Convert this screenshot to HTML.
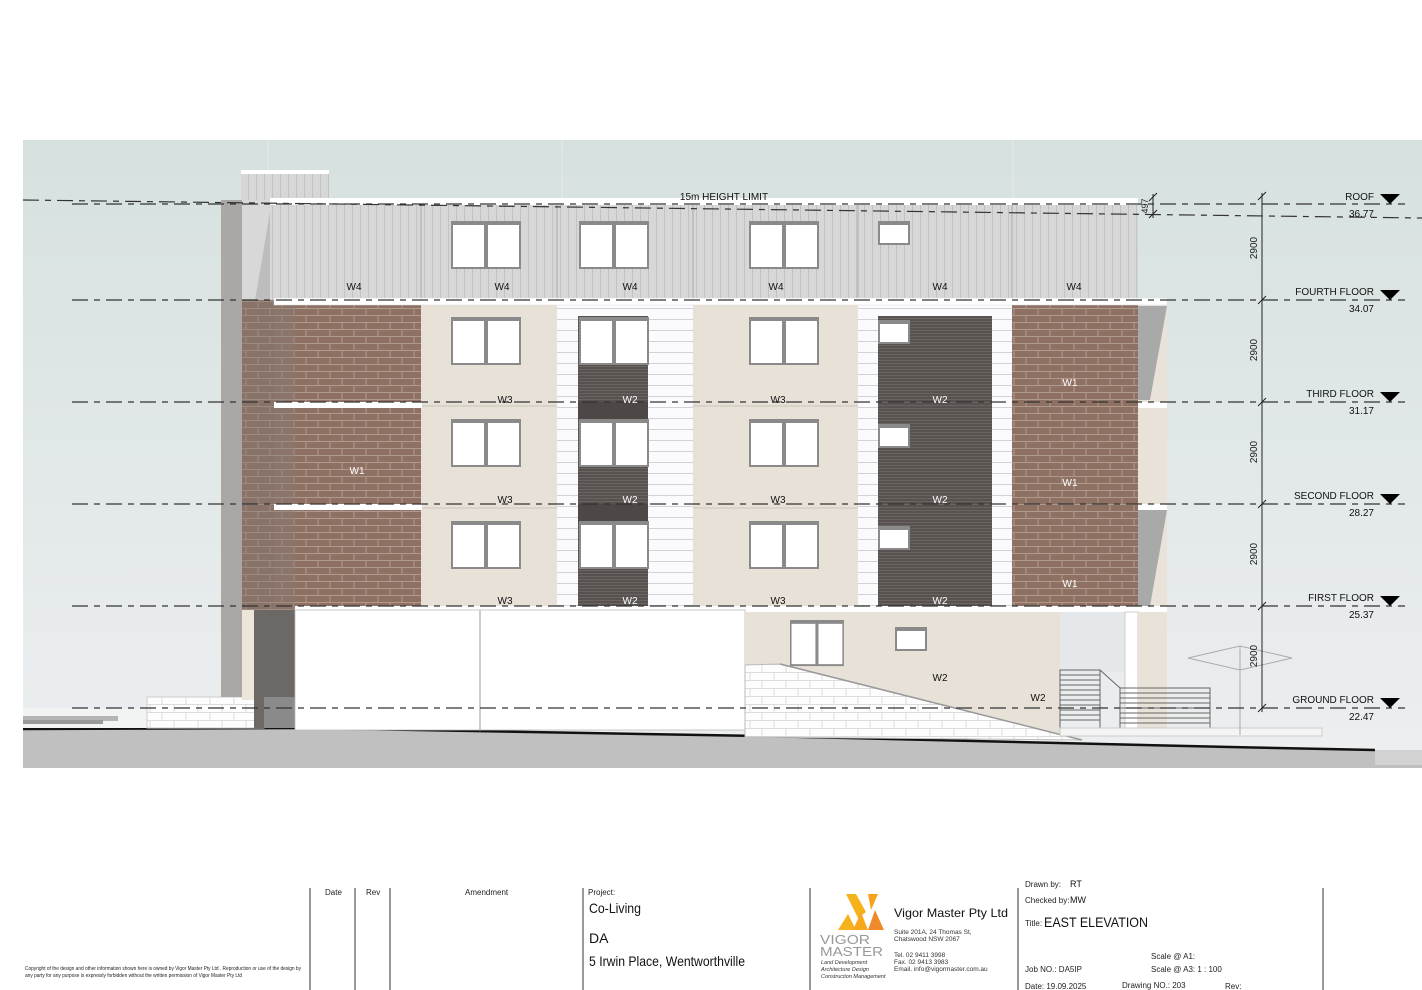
<!DOCTYPE html>
<html><head><meta charset="utf-8"><style>
html,body{margin:0;padding:0;background:#fff;}
svg{display:block;font-family:"Liberation Sans",sans-serif;}
</style></head><body>
<svg width="1422" height="990" viewBox="0 0 1422 990" xmlns="http://www.w3.org/2000/svg">
<defs>
<linearGradient id="sky" x1="0" y1="0" x2="0" y2="1"><stop offset="0" stop-color="#d6e1df"/><stop offset="1" stop-color="#eceef0"/></linearGradient>
<pattern id="brick" width="24" height="14" patternUnits="userSpaceOnUse"><rect width="24" height="14" fill="#8f7163"/><path d="M0 0.5H24M0 7.5H24M6 0V7M18 7V14" stroke="#b09a8d" stroke-width="1"/></pattern>
<pattern id="vclad" width="8" height="10" patternUnits="userSpaceOnUse"><rect width="8" height="10" fill="#d7d7d8"/><path d="M0.5 0V10" stroke="#c2c2c4" stroke-width="1"/></pattern>
<pattern id="hsid" width="10" height="11" patternUnits="userSpaceOnUse"><rect width="10" height="11" fill="#fbfbfd"/><path d="M0 0.5H10" stroke="#d4cfd8" stroke-width="1"/></pattern>
<pattern id="dark" width="10" height="3" patternUnits="userSpaceOnUse"><rect width="10" height="3" fill="#57524f"/><path d="M0 0.5H10" stroke="#6a6561" stroke-width="1"/></pattern>
<pattern id="block" width="24" height="16" patternUnits="userSpaceOnUse"><rect width="24" height="16" fill="#fdfdfd"/><path d="M0 0.5H24M0 8.5H24M6 0V8M18 8V16" stroke="#dcdcdc"/></pattern>
<g id="dw"><rect x="0" y="0" width="70" height="48" fill="#8a8a8a"/><rect x="2" y="4" width="31" height="42" fill="#fff"/><rect x="37" y="4" width="31" height="42" fill="#fff"/></g>
<g id="sw"><rect x="0" y="0" width="32" height="24" fill="#8a8a8a"/><rect x="2" y="4" width="28" height="18" fill="#fff"/></g>
</defs>
<rect width="1422" height="990" fill="#fff"/>
<rect x="23" y="140" width="1399" height="610" fill="url(#sky)"/>
<g stroke="#e6eaea" stroke-width="1"><line x1="268" y1="140" x2="268" y2="768"/><line x1="562" y1="140" x2="562" y2="768"/><line x1="1013" y1="140" x2="1013" y2="768"/></g>

<polygon points="23,729 300,728 760,736 1230,747 1375,750 1422,752 1422,768 23,768" fill="#c0c0c0"/>
<polyline points="23,729 300,728 760,736 1230,747 1375,750" fill="none" stroke="#111" stroke-width="2.5"/>
<rect x="1375" y="750" width="47" height="15" fill="#d2d2d2"/>

<rect x="23" y="708" width="125" height="20" fill="#f2f3f3"/>
<rect x="23" y="716" width="95" height="5" fill="#b5b5b5"/><rect x="23" y="720" width="80" height="4" fill="#999"/>
<rect x="147" y="697" width="117" height="31" fill="url(#block)" stroke="#ccc"/>

<rect x="241" y="170" width="88" height="32" fill="url(#vclad)"/><rect x="241" y="170" width="88" height="4" fill="#fff"/>
<rect x="221" y="200" width="21" height="497" fill="#aaa7a5"/>
<rect x="242" y="200" width="32" height="410" fill="#bdbdbd"/>
<polygon points="242,200 272,200 250,330 242,330" fill="#d8d8d8"/>
<rect x="242" y="300" width="53" height="310" fill="#7a6d67" opacity="0.9"/>
<rect x="242" y="300" width="53" height="310" fill="url(#brick)" opacity="0.6"/>
<rect x="242" y="610" width="12" height="90" fill="#ece6da"/>
<rect x="254" y="610" width="41" height="118" fill="#6c6866"/>
<rect x="264" y="697" width="31" height="31" fill="#8a8a8a"/>

<rect x="270" y="198" width="868" height="7" fill="#fff"/>
<rect x="270" y="205" width="868" height="95" fill="url(#vclad)"/>
<g stroke="#aaa"><line x1="421" y1="205" x2="421" y2="300"/><line x1="557" y1="205" x2="557" y2="300"/><line x1="693" y1="205" x2="693" y2="300"/><line x1="858" y1="205" x2="858" y2="300"/><line x1="1012" y1="205" x2="1012" y2="300"/></g>

<rect x="295" y="300" width="126" height="306" fill="url(#brick)"/>
<rect x="421" y="300" width="136" height="306" fill="#e7e1d7"/>
<rect x="557" y="300" width="136" height="306" fill="url(#hsid)"/>
<rect x="578" y="316" width="70" height="290" fill="url(#dark)"/>
<rect x="693" y="300" width="165" height="306" fill="#e7e1d7"/>
<rect x="858" y="300" width="154" height="306" fill="url(#hsid)"/>
<rect x="878" y="316" width="114" height="290" fill="url(#dark)"/>
<rect x="1012" y="300" width="126" height="306" fill="url(#brick)"/>
<rect x="1138" y="300" width="29" height="310" fill="#e8e2d8"/>
<polygon points="1138,306 1167,306 1150,400 1138,400" fill="#a9a9a9"/>
<polygon points="1138,510 1167,510 1150,606 1138,606" fill="#a9a9a9"/>
<g stroke="#c8c2b8"><line x1="421" y1="406" x2="557" y2="406"/><line x1="693" y1="406" x2="858" y2="406"/><line x1="421" y1="508" x2="557" y2="508"/><line x1="693" y1="508" x2="858" y2="508"/></g>
<rect x="274" y="298" width="893" height="7" fill="#fff" stroke="#ddd" stroke-width="0.5"/>
<rect x="274" y="402" width="148" height="6" fill="#fff"/>
<rect x="274" y="504" width="148" height="6" fill="#fff"/>
<rect x="1138" y="402" width="29" height="6" fill="#fff"/>
<rect x="1138" y="504" width="29" height="6" fill="#fff"/>
<rect x="578" y="402" width="70" height="19" fill="#4d4845"/><rect x="578" y="504" width="70" height="19" fill="#4d4845"/>

<use href="#dw" x="451" y="221"/><use href="#dw" x="579" y="221"/><use href="#dw" x="749" y="221"/><use href="#sw" x="878" y="221"/>
<use href="#dw" x="451" y="317"/><use href="#dw" x="579" y="317"/><use href="#dw" x="749" y="317"/><use href="#sw" x="878" y="320"/>
<use href="#dw" x="451" y="419"/><use href="#dw" x="579" y="419"/><use href="#dw" x="749" y="419"/><use href="#sw" x="878" y="424"/>
<use href="#dw" x="451" y="521"/><use href="#dw" x="579" y="521"/><use href="#dw" x="749" y="521"/><use href="#sw" x="878" y="526"/>

<rect x="295" y="606" width="872" height="6" fill="#fff"/>
<rect x="295" y="610" width="450" height="120" fill="#fff" stroke="#bbb" stroke-width="0.8"/>
<line x1="480" y1="610" x2="480" y2="731" stroke="#999"/>
<rect x="745" y="612" width="315" height="125" fill="#e7e1d7"/>
<rect x="1060" y="612" width="65" height="60" fill="#e4e8ea"/>
<rect x="1125" y="612" width="13" height="120" fill="#fff" stroke="#ccc"/>
<rect x="1138" y="612" width="29" height="120" fill="#e8e2d8"/>
<polygon points="745,665 780,664 1082,740 745,737" fill="url(#block)" stroke="#bbb"/>
<line x1="780" y1="664" x2="1082" y2="740" stroke="#999" stroke-width="1.5"/>
<g transform="translate(790,620) scale(0.77,0.96)"><use href="#dw"/></g>
<use href="#sw" x="895" y="627"/>
<g stroke="#666" stroke-width="1" fill="none">
<rect x="1060" y="670" width="40" height="58"/>
<path d="M1060 675H1100M1060 680H1100M1060 685H1100M1060 690H1100M1060 695H1100M1060 700H1100M1060 705H1100M1060 710H1100M1060 715H1100M1060 720H1100"/>
<path d="M1100 670L1120 688V735M1120 688H1210V735M1120 693H1210M1120 698H1210M1120 703H1210M1120 708H1210M1120 713H1210M1120 718H1210M1120 723H1210M1120 728H1210"/>
</g>
<rect x="1060" y="728" width="262" height="8" fill="#f4f4f4" stroke="#ccc"/>
<g stroke="#aaa" fill="none"><path d="M1188 658L1240 646L1292 658L1240 670Z"/><line x1="1240" y1="646" x2="1240" y2="735"/></g>

<g stroke="#333" stroke-width="1.2" stroke-dasharray="16,6,6,6" fill="none">
<line x1="23" y1="200" x2="1422" y2="218"/>
<line x1="72" y1="204" x2="1405" y2="204"/>
<line x1="72" y1="300" x2="1405" y2="300"/>
<line x1="72" y1="402" x2="1405" y2="402"/>
<line x1="72" y1="504" x2="1405" y2="504"/>
<line x1="72" y1="606" x2="1405" y2="606"/>
<line x1="72" y1="708" x2="1405" y2="708"/>
</g>
<g stroke="#222" stroke-width="1"><line x1="1262" y1="193" x2="1262" y2="712"/><line x1="1153" y1="194" x2="1153" y2="218"/>
<path d="M1258 200l8-8M1258 304l8-8M1258 406l8-8M1258 508l8-8M1258 610l8-8M1258 712l8-8M1149 201l8-8M1149 218l8-8"/></g>
<g font-size="10" fill="#222">
<text transform="translate(1257,248) rotate(-90)" text-anchor="middle">2900</text>
<text transform="translate(1257,350) rotate(-90)" text-anchor="middle">2900</text>
<text transform="translate(1257,452) rotate(-90)" text-anchor="middle">2900</text>
<text transform="translate(1257,554) rotate(-90)" text-anchor="middle">2900</text>
<text transform="translate(1257,656) rotate(-90)" text-anchor="middle">2900</text>
<text transform="translate(1148,206) rotate(-90)" text-anchor="middle" font-size="9">497</text>
</g>
<g font-size="10" fill="#111" text-anchor="end">
<text x="1374" y="200">ROOF</text><text x="1374" y="217">36.77</text>
<text x="1374" y="295">FOURTH FLOOR</text><text x="1374" y="312">34.07</text>
<text x="1374" y="397">THIRD FLOOR</text><text x="1374" y="414">31.17</text>
<text x="1374" y="499">SECOND FLOOR</text><text x="1374" y="516">28.27</text>
<text x="1374" y="601">FIRST FLOOR</text><text x="1374" y="618">25.37</text>
<text x="1374" y="703">GROUND FLOOR</text><text x="1374" y="720">22.47</text>
</g>
<g fill="#000"><path d="M1380 194h20l-10 10z"/><path d="M1380 290h20l-10 10z"/><path d="M1380 392h20l-10 10z"/><path d="M1380 494h20l-10 10z"/><path d="M1380 596h20l-10 10z"/><path d="M1380 698h20l-10 10z"/></g>
<text x="724" y="200" font-size="10" text-anchor="middle" fill="#111">15m HEIGHT LIMIT</text>

<g font-size="10" fill="#111" text-anchor="middle">
<text x="354" y="290">W4</text><text x="502" y="290">W4</text><text x="630" y="290">W4</text><text x="776" y="290">W4</text><text x="940" y="290">W4</text><text x="1074" y="290">W4</text>
<text x="505" y="403">W3</text><text x="630" y="403" fill="#fff">W2</text><text x="778" y="403">W3</text><text x="940" y="403" fill="#fff">W2</text><text x="1070" y="386" fill="#fff">W1</text>
<text x="357" y="474" fill="#fff">W1</text>
<text x="505" y="503">W3</text><text x="630" y="503" fill="#fff">W2</text><text x="778" y="503">W3</text><text x="940" y="503" fill="#fff">W2</text><text x="1070" y="486" fill="#fff">W1</text>
<text x="505" y="604">W3</text><text x="630" y="604" fill="#fff">W2</text><text x="778" y="604">W3</text><text x="940" y="604" fill="#fff">W2</text><text x="1070" y="587" fill="#fff">W1</text>
<text x="940" y="681">W2</text><text x="1038" y="701">W2</text>
</g>

<g stroke="#555" stroke-width="1.2"><line x1="310" y1="888" x2="310" y2="990"/><line x1="355" y1="888" x2="355" y2="990"/><line x1="390" y1="888" x2="390" y2="990"/><line x1="583" y1="888" x2="583" y2="990"/><line x1="810" y1="888" x2="810" y2="990"/><line x1="1018" y1="888" x2="1018" y2="990"/><line x1="1323" y1="888" x2="1323" y2="990"/></g>
<g font-size="8" fill="#222">
<text x="325" y="895">Date</text><text x="366" y="895">Rev</text><text x="465" y="895">Amendment</text>
<text x="588" y="895">Project:</text>
<text x="25" y="970" font-size="5.5" textLength="276" lengthAdjust="spacingAndGlyphs">Copyright of the design and other information shown here is owned by Vigor Master Pty Ltd . Reproduction or use of the design by</text>
<text x="25" y="977" font-size="5.5" textLength="217" lengthAdjust="spacingAndGlyphs">any party for any purpose is expressly forbidden without the written permission of Vigor Master Pty Ltd</text>
</g>
<g font-size="14" fill="#111"><text x="589" y="913" textLength="52" lengthAdjust="spacingAndGlyphs">Co-Living</text><text x="589" y="943">DA</text><text x="589" y="966" textLength="156" lengthAdjust="spacingAndGlyphs">5 Irwin Place, Wentworthville</text></g>
<polygon points="846,894 856,894 866,912 858,918" fill="#f6b21a"/>
<polygon points="868,894 878,894 871,910" fill="#f6a21a"/>
<polygon points="848,914 838,930 856,930" fill="#f6b21a"/>
<polygon points="861,912 853,930 868,930" fill="#f6a81a"/>
<polygon points="875,910 868,930 884,930" fill="#f08a2a"/>
<text x="820" y="944" font-size="13" fill="#999" textLength="50" lengthAdjust="spacingAndGlyphs">VIGOR</text>
<text x="820" y="956" font-size="13" fill="#999" textLength="63" lengthAdjust="spacingAndGlyphs">MASTER</text>
<g font-size="5.5" font-style="italic" fill="#333"><text x="821" y="964">Land Development</text><text x="821" y="971">Architecture Design</text><text x="821" y="978">Construction Management</text></g>
<text x="894" y="917" font-size="12" fill="#111" textLength="114" lengthAdjust="spacingAndGlyphs">Vigor Master Pty Ltd</text>
<g font-size="6.5" fill="#333"><text x="894" y="934">Suite 201A, 24 Thomas St,</text><text x="894" y="941">Chatswood NSW 2067</text><text x="894" y="957">Tel.  02 9411 3998</text><text x="894" y="964">Fax.  02 9413 3983</text><text x="894" y="971">Email. info@vigormaster.com.au</text></g>
<g font-size="8" fill="#222"><text x="1025" y="887">Drawn by:</text><text x="1025" y="903">Checked by:</text><text x="1025" y="926">Title:</text><text x="1025" y="972">Job NO.: DA5IP</text><text x="1025" y="989">Date: 19.09.2025</text><text x="1151" y="959">Scale @ A1:</text><text x="1151" y="972">Scale @ A3:   1 : 100</text><text x="1122" y="988">Drawing NO.: 203</text><text x="1225" y="989">Rev:</text></g>
<g font-size="9" fill="#111"><text x="1070" y="887">RT</text><text x="1070" y="903">MW</text></g>
<text x="1044" y="927" font-size="14" fill="#111" textLength="104" lengthAdjust="spacingAndGlyphs">EAST ELEVATION</text>
</svg>
</body></html>
